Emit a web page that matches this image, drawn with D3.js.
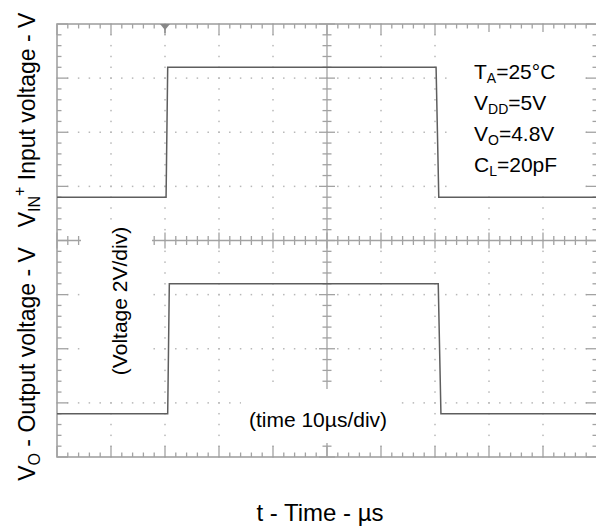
<!DOCTYPE html>
<html><head><meta charset="utf-8">
<script src="https://cdn.jsdelivr.net/npm/d3@7/dist/d3.min.js"></script>
<style>
body{margin:0;background:#fff}
text{font-family:"Liberation Sans",Arial,Helvetica,sans-serif;fill:#000}
</style>
</head><body>
<svg id="chart" width="596" height="530"></svg>
<script>
// ---- data (scope screen: 10 µs/div, 2 V/div) ----
const timeDomain = [0, 100];          // µs across 10 divisions
const voltDomain = [-8, 8];           // V across 8 divisions
const majorTimeStep = 10, minorTimeStep = 2;
const majorVoltStep = 2, minorVoltStep = 0.4;

const inputTime  = [0, 20.2, 20.5, 70.2, 70.7, 100];
const inputVolt  = [0, 0, 4.8, 4.8, 0, 0];
const outputTime = [0, 20.5, 20.8, 70.6, 71.1, 100];
const outputVolt = [0, 0, 4.8, 4.8, 0, 0];
const inputGround = 1.6;      // screen position of channel ground (V)
const outputGround = -6.4;
const triggerTime = 20;

const conditionLabels = [
  {main:"T", sub:"A", rest:"=25°C"},
  {main:"V", sub:"DD", rest:"=5V"},
  {main:"V", sub:"O", rest:"=4.8V"},
  {main:"C", sub:"L", rest:"=20pF"}
];
const voltageNote = "(Voltage 2V/div)";
const timeNote = "(time 10µs/div)";
const xTitle = "t - Time - µs";

// ---- drawing ----
const svg = d3.select("#chart");
const x = d3.scaleLinear().domain(timeDomain).range([57, 597]);
const y = d3.scaleLinear().domain(voltDomain).range([457, 24]);
const grid = "#a2a2a2";

svg.append("rect").attr("width",596).attr("height",530).attr("fill","#fff");

const g = svg.append("g");
const minorT = d3.range(timeDomain[0], timeDomain[1] + 0.001, minorTimeStep);
const minorV = d3.range(voltDomain[0], voltDomain[1] + 0.001, minorVoltStep);
const isMajorT = t => Math.abs(t / majorTimeStep - Math.round(t / majorTimeStep)) < 1e-6;
const isMajorV = v => Math.abs(v / majorVoltStep - Math.round(v / majorVoltStep)) < 1e-6;
const majorT = minorT.filter(isMajorT);
const majorV = minorV.filter(isMajorV);

// dotted grid
majorT.filter(t => t > timeDomain[0] && t < timeDomain[1] && t !== 50).forEach(t => {
  minorV.forEach(v => g.append("rect").attr("x", x(t)-0.75).attr("y", y(v)-0.75)
    .attr("width",1.5).attr("height",1.5).attr("fill","#b8b8b8"));
});
majorV.filter(v => v > voltDomain[0] && v < voltDomain[1] && v !== 0).forEach(v => {
  minorT.forEach(t => g.append("rect").attr("x", x(t)-0.75).attr("y", y(v)-0.75)
    .attr("width",1.5).attr("height",1.5).attr("fill","#b8b8b8"));
});

// centre axes
g.append("line").attr("x1",x(0)).attr("x2",x(100)).attr("y1",y(0)).attr("y2",y(0))
  .attr("stroke",grid).attr("stroke-width",1.3);
g.append("line").attr("x1",x(50)).attr("x2",x(50)).attr("y1",y(8)).attr("y2",y(-8))
  .attr("stroke",grid).attr("stroke-width",1.3);
minorT.forEach(t => {
  const L = isMajorT(t) ? 8 : 4.5;
  g.append("line").attr("x1",x(t)).attr("x2",x(t)).attr("y1",y(0)-L).attr("y2",y(0)+L)
    .attr("stroke",grid).attr("stroke-width",1.3);
});
minorV.forEach(v => {
  const L = isMajorV(v) ? 8 : 4.5;
  g.append("line").attr("y1",y(v)).attr("y2",y(v)).attr("x1",x(50)-L).attr("x2",x(50)+L)
    .attr("stroke",grid).attr("stroke-width",1.3);
});

// border ticks
minorT.forEach(t => {
  const L = isMajorT(t) ? 11 : 4.5;
  g.append("line").attr("x1",x(t)).attr("x2",x(t)).attr("y1",y(8)).attr("y2",y(8)+L)
    .attr("stroke",grid).attr("stroke-width",1.3);
  g.append("line").attr("x1",x(t)).attr("x2",x(t)).attr("y1",y(-8)).attr("y2",y(-8)-L)
    .attr("stroke",grid).attr("stroke-width",1.3);
});
minorV.forEach(v => {
  const L = isMajorV(v) ? 11 : 4.5;
  g.append("line").attr("y1",y(v)).attr("y2",y(v)).attr("x1",x(0)).attr("x2",x(0)+L)
    .attr("stroke",grid).attr("stroke-width",1.3);
  g.append("line").attr("y1",y(v)).attr("y2",y(v)).attr("x1",x(100)).attr("x2",x(100)-L)
    .attr("stroke",grid).attr("stroke-width",1.3);
});

// frame
g.append("rect").attr("x",x(0)).attr("y",y(8)).attr("width",x(100)-x(0)).attr("height",y(-8)-y(8))
  .attr("fill","none").attr("stroke",grid).attr("stroke-width",1.6);

// trigger marker
const tx = x(triggerTime);
g.append("path").attr("d",`M${tx-5},${y(8)} L${tx+5},${y(8)} L${tx},${y(8)+6} Z`).attr("fill","#888");
g.append("line").attr("x1",tx).attr("x2",tx).attr("y1",y(8)).attr("y2",y(8)+9).attr("stroke","#888").attr("stroke-width",1.3);

// white masks behind notes
svg.append("rect").attr("x",450).attr("y",32).attr("width",133).attr("height",158).attr("fill","#fff");
svg.append("rect").attr("x",81).attr("y",223).attr("width",71).attr("height",172).attr("fill","#fff");
svg.append("rect").attr("x",241).attr("y",389).attr("width",153).attr("height",54).attr("fill","#fff");

// signals
const line = d3.line().x(d => x(d[0])).y(d => y(d[1]));
svg.append("path").datum(inputTime.map((t,i)=>[t, inputVolt[i] + inputGround]))
  .attr("d", line).attr("fill","none").attr("stroke","#5e5e5e").attr("stroke-width",1.5);
svg.append("path").datum(outputTime.map((t,i)=>[t, outputVolt[i] + outputGround]))
  .attr("d", line).attr("fill","none").attr("stroke","#5e5e5e").attr("stroke-width",1.5);

// condition labels
conditionLabels.forEach((c,i) => {
  const t = svg.append("text").attr("x",474).attr("y",79 + i*31).attr("font-size",21);
  t.append("tspan").text(c.main);
  t.append("tspan").attr("font-size",14).attr("dy",4).text(c.sub);
  t.append("tspan").attr("dy",-4).text(c.rest);
});

// notes
svg.append("text").attr("transform","translate(127,301) rotate(-90)")
  .attr("text-anchor","middle").attr("font-size",21).text(voltageNote);
svg.append("text").attr("x",318).attr("y",427).attr("text-anchor","middle")
  .attr("font-size",21).text(timeNote);

// axis titles
const yt1 = svg.append("text").attr("transform","translate(35,120) rotate(-90)")
  .attr("text-anchor","middle").attr("font-size",23);
yt1.append("tspan").text("V");
yt1.append("tspan").attr("font-size",16).attr("dy",5).text("IN");
yt1.append("tspan").attr("font-size",16).attr("dy",-15).text("+");
yt1.append("tspan").attr("dy",10).text(" Input voltage - V");

const yt2 = svg.append("text").attr("transform","translate(35,364) rotate(-90)")
  .attr("text-anchor","middle").attr("font-size",23);
yt2.append("tspan").text("V");
yt2.append("tspan").attr("font-size",16).attr("dy",5).text("O");
yt2.append("tspan").attr("dy",-5).text(" - Output voltage - V");

svg.append("text").attr("x",320).attr("y",521).attr("text-anchor","middle")
  .attr("font-size",24).text(xTitle);
</script>
</body></html>
